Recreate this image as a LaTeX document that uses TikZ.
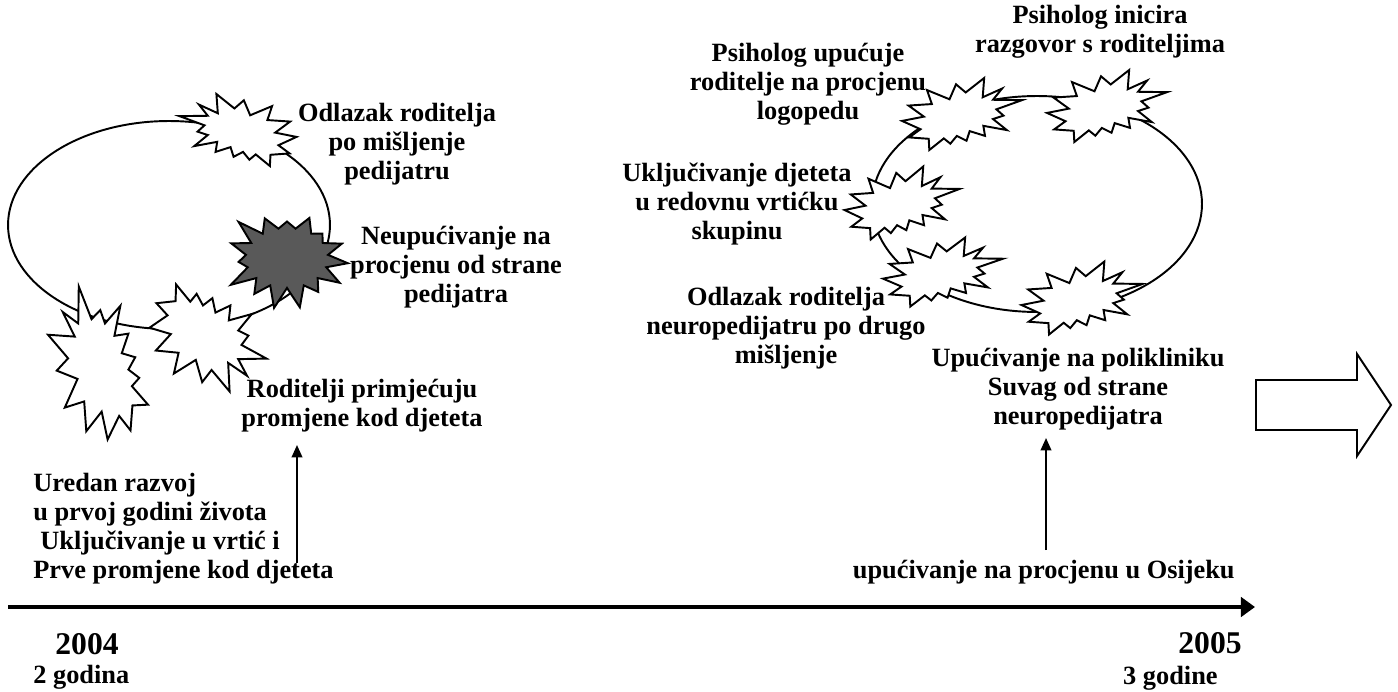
\documentclass[tikz,border=0pt]{standalone}
\usepackage{fontspec}
\setmainfont{Liberation Serif}
\usetikzlibrary{shapes.symbols,arrows.meta}
\tikzset{
    burstline/.style={draw=black,fill=white,line width=1.1pt,line join=miter},
    boom/.pic={
        \draw[burstline] (0.0306,-0.2990) -- (0.1847,-0.5) -- (0.1725,-0.2325) -- (0.3337,-0.3531)
            -- (0.2583,-0.1976) -- (0.5,-0.1924) -- (0.2863,-0.0647) -- (0.3458,0.0227)
            -- (0.2583,0.0699) -- (0.3739,0.2237) -- (0.1778,0.1644) -- (0.1918,0.3042)
            -- (0.0639,0.2377) -- (0.0376,0.3723) -- (-0.0430,0.3042) -- (-0.0972,0.4126)
            -- (-0.1515,0.3391) -- (-0.2724,0.5) -- (-0.2775,0.3444) -- (-0.4405,0.3252)
            -- (-0.3458,0.2116) -- (-0.5,0.0962) -- (-0.3178,0.0367) -- (-0.4457,-0.1171)
            -- (-0.2513,-0.1381) -- (-0.2916,-0.3322) -- (-0.1042,-0.2045) -- (-0.0499,-0.4126)
            -- cycle;
    }
}
\newcommand\lblfont{\bfseries\fontsize{15}{16.5}\selectfont}
\begin{document}
\begin{tikzpicture}[
    x=0.02cm, y=-0.02cm,
    lbl/.style={font=\lblfont,align=center,inner sep=0pt},
    darkburst/.style={starburst,draw=black,fill=black!65,line width=1.1pt,starburst points=15,
        starburst point height=0.5cm,inner sep=0pt},
    loopline/.style={draw=black,line width=1.1pt},
    uparr/.style={-{Triangle[length=7pt,width=6pt]},line width=1.1pt},
    timeline/.style={-{Triangle[length=8pt,width=11pt]},line width=2.3pt}
]
    \useasboundingbox (0,0) rectangle (1398,692);

    % 2004 cycle
    \draw[loopline] (169,225) ellipse [x radius=3.22cm, y radius=2.08cm];
    \pic[xscale=-117,yscale=72] (b1) at (238,130) {boom};
    \node[darkburst,random starburst=23,minimum width=2.65cm,minimum height=2.2cm] (b2) at (287,258) {};
    \pic[xscale=117,yscale=-107] (b3) at (208,338) {boom};
    \pic[rotate=90,xscale=153,yscale=100] (b4) at (98,363) {boom};

    \node[lbl] (odlazak) at (397,144) {Odlazak roditelja\\po mišljenje\\pedijatru};
    \node[lbl] (neupuc) at (456,267) {Neupućivanje na\\procjenu od strane\\pedijatra};
    \node[lbl] (roditelji) at (362,406) {Roditelji primjećuju\\promjene kod djeteta};
    \node[lbl,align=left,anchor=west] (uredan) at (33,529)
        {Uredan razvoj\\u prvoj godini života\\\hspace*{4pt}Uključivanje u vrtić i\\Prve promjene kod djeteta};

    % 2005 cycle
    \draw[loopline] (1037,204) ellipse [x radius=3.3cm, y radius=2.16cm];
    \pic[xscale=120,yscale=72] (b5) at (962,114) {boom};
    \pic[xscale=120,yscale=72] (b6) at (1107,106) {boom};
    \pic[xscale=115,yscale=73] (b7) at (902,203) {boom};
    \pic[xscale=120,yscale=69] (b8) at (943,272) {boom};
    \pic[xscale=121,yscale=73] (b9) at (1082,298) {boom};

    \node[lbl] (logoped) at (808,84) {Psiholog upućuje\\roditelje na procjenu\\logopedu};
    \node[lbl] (inicira) at (1100,32) {Psiholog inicira\\razgovor s roditeljima};
    \node[lbl] (vrtic) at (737,204) {Uključivanje djeteta\\u redovnu vrtićku\\skupinu};
    \node[lbl] (drugo) at (786,328) {Odlazak roditelja\\neuropedijatru po drugo\\mišljenje};
    \node[lbl] (suvag) at (1078,389) {Upućivanje na polikliniku\\Suvag od strane\\neuropedijatra};
    \node[lbl,anchor=east] (osijek) at (1235,572) {upućivanje na procjenu u Osijeku};

    % time axis
    \coordinate (t0) at (8,607);
    \coordinate (t1) at (1255,607);
    \draw[timeline] (t0) -- (t1);
    \node[lbl] (y2004) at (87,644) {\fontsize{18}{20}\selectfont 2004};
    \node[lbl,anchor=west] (age2) at (33,677) {2 godina};
    \node[lbl,anchor=east] (y2005) at (1242,643) {\fontsize{18}{20}\selectfont 2005};
    \node[lbl,anchor=east] (age3) at (1218,678) {3 godine};

    \coordinate (lftbot) at (297,563);
    \coordinate (lfttop) at (297,445);
    \coordinate (rgtbot) at (1046,550);
    \coordinate (rgttop) at (1046,438);
    \draw[uparr] (lftbot) -- (lfttop);
    \draw[uparr] (rgtbot) -- (rgttop);

    % big arrow
    \draw[line width=1.1pt] (1256,380) -- (1357,380) -- (1357,354) -- (1391,405)
        -- (1357,456) -- (1357,430) -- (1256,430) -- cycle;
\end{tikzpicture}
\end{document}
